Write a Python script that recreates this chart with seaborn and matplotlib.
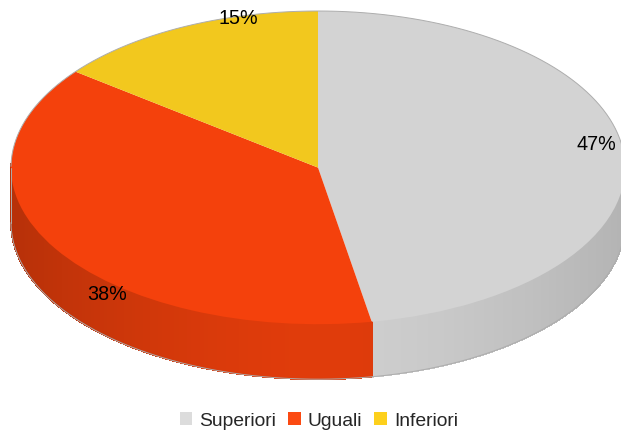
import numpy as np
import matplotlib
matplotlib.use("Agg")
import matplotlib.pyplot as plt
import seaborn as sns
from matplotlib.patches import Patch

categories = ["Superiori", "Uguali", "Inferiori"]
shares = [47.2, 38.3, 14.5]
labels = ["47%", "38%", "15%"]
top_colors = ["#d3d3d3", "#f4410c", "#f2c81e"]
legend_colors = ["#dcdcdc", "#fb4a12", "#fdd01c"]
wall_base = [0.98, 0.92, 0.9]
wall_dim = [0.13, 0.17, 0.17]

sns.set_theme(style="white")
plt.rcParams["font.family"] = ["Liberation Sans", "DejaVu Sans"]

W, H = 621, 432
cx, cy, rx, ry = 318, 167.6, 307, 156.6
depth = 55 / ry

fig = plt.figure(figsize=(W / 100, H / 100), dpi=100)
ax = fig.add_axes([0, 0, 1, 1])

palette = sns.color_palette(top_colors)

# side wall, shaded in thin strips
edges = 90 - np.cumsum([0] + shares) * 3.6
for i in range(len(shares)):
    th = np.radians(np.linspace(edges[i], edges[i + 1], 160))
    for a, b in zip(th[:-1], th[1:]):
        if np.sin(a) > 0.01 and np.sin(b) > 0.01:
            continue
        mid = (a + b) / 2
        shade = wall_base[i] - wall_dim[i] * abs(np.cos(mid)) ** 1.6
        xs = np.cos([a, b, b, a])
        ys = np.sin([a, b, b, a]) - np.array([0, 0, depth, depth])
        ax.fill(xs, ys, color=np.array(palette[i]) * shade, lw=0.6, antialiased=False, zorder=1)

# top face
ax.pie(shares, colors=palette, startangle=90, counterclock=False, radius=1,
       wedgeprops={"linewidth": 0, "zorder": 2})
ax.set_aspect("auto")
ax.set_xlim(-cx / rx, (W - cx) / rx)
ax.set_ylim((cy - H) / ry, cy / ry)

# thin outline on the rim
th = np.linspace(0, 2 * np.pi, 400)
ax.plot(np.cos(th)[np.sin(th) >= 0], np.sin(th)[np.sin(th) >= 0], color="#adadad", lw=0.7, zorder=3)
low = np.linspace(np.pi, 2 * np.pi, 200)
ax.plot(np.cos(low), np.sin(low) - depth, color="#adadad", lw=0.7, zorder=3)
ax.plot([-1, -1], [0, -depth], color="#adadad", lw=0.7, zorder=3)

# percent labels
for txt, px, py in zip(labels, [596, 107, 238], [145, 294, 18]):
    fig.text(px / W, 1 - py / H, txt, fontsize=14.2, color="black", ha="center", va="center")

handles = [Patch(facecolor=c, edgecolor="none", label=n) for c, n in zip(legend_colors, categories)]
fig.legend(handles=handles, loc="center", bbox_to_anchor=(319 / W, 1 - 421 / H), ncol=3, frameon=False,
           fontsize=13.9, handlelength=0.64, handleheight=0.64, handletextpad=0.37,
           columnspacing=0.62, labelspacing=0, borderpad=0)

fig.savefig("out.png", dpi=100)
